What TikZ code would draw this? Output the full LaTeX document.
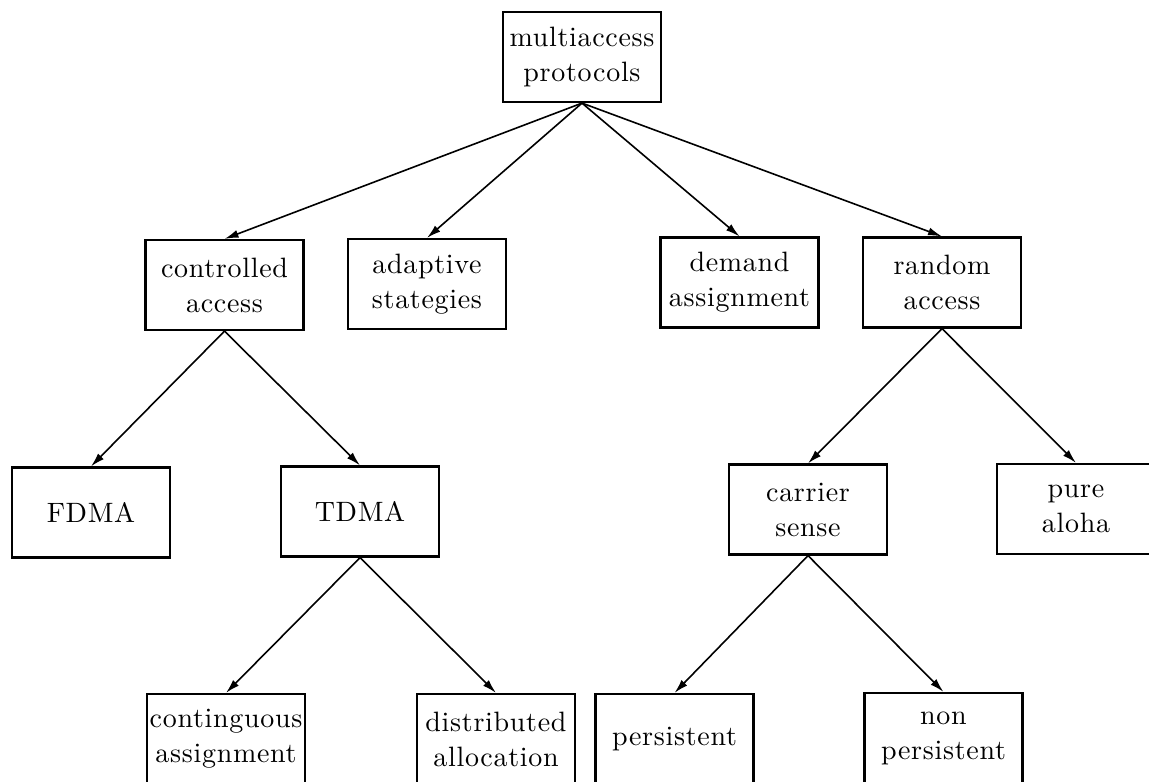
\documentclass[tikz,border=0pt]{standalone}
\usepackage{fontspec}
\newfontfamily\boxfont{lmroman10-regular.otf}[LetterSpace=2.5]
\usetikzlibrary{arrows.meta}
\tikzset{
  box/.style={draw, line width=1.1pt, minimum width=79pt, minimum height=45pt,
    inner xsep=0pt, inner ysep=2pt, align=center,
    font=\boxfont\fontsize{14}{17.5}\selectfont},
  link/.style={-{Latex[length=7pt,width=4pt]}, line width=0.8pt}
}
\begin{document}
\begin{tikzpicture}[x=0.5pt,y=-0.5pt]
\useasboundingbox (0,0) rectangle (1149,781);
\clip (0,0) rectangle (1149,781);
\fill[white] (0,0) rectangle (1149,781);
\node[box] (mp) at (582,57) {multiaccess\\protocols};
\node[box] (ca) at (224.5,285) {controlled\\access};
\node[box] (as) at (427,284) {adaptive\\stategies};
\node[box] (da) at (739.5,282.5) {demand\\assignment};
\node[box] (ra) at (942,282.5) {random\\access};
\node[box] (fd) at (91,512.5) {FDMA};
\node[box] (td) at (360,511.5) {TDMA};
\node[box] (cs) at (808,509.5) {carrier\\sense};
\node[box] (pa) at (1076,509) {pure\\aloha};
\node[box] (cg) at (226,739) {continguous\\assignment};
\node[box] (db) at (496,739) {distributed\\allocation};
\node[box] (ps) at (674.5,739) {persistent};
\node[box] (np) at (943.5,738) {non\\persistent};
\draw[link] (mp.south) -- (ca.north);
\draw[link] (mp.south) -- (as.north);
\draw[link] (mp.south) -- (da.north);
\draw[link] (mp.south) -- (ra.north);
\draw[link] (ca.south) -- (fd.north);
\draw[link] (ca.south) -- (td.north);
\draw[link] (ra.south) -- (cs.north);
\draw[link] (ra.south) -- (pa.north);
\draw[link] (td.south) -- (cg.north);
\draw[link] (td.south) -- (db.north);
\draw[link] (cs.south) -- (ps.north);
\draw[link] (cs.south) -- (np.north);
\end{tikzpicture}
\end{document}
